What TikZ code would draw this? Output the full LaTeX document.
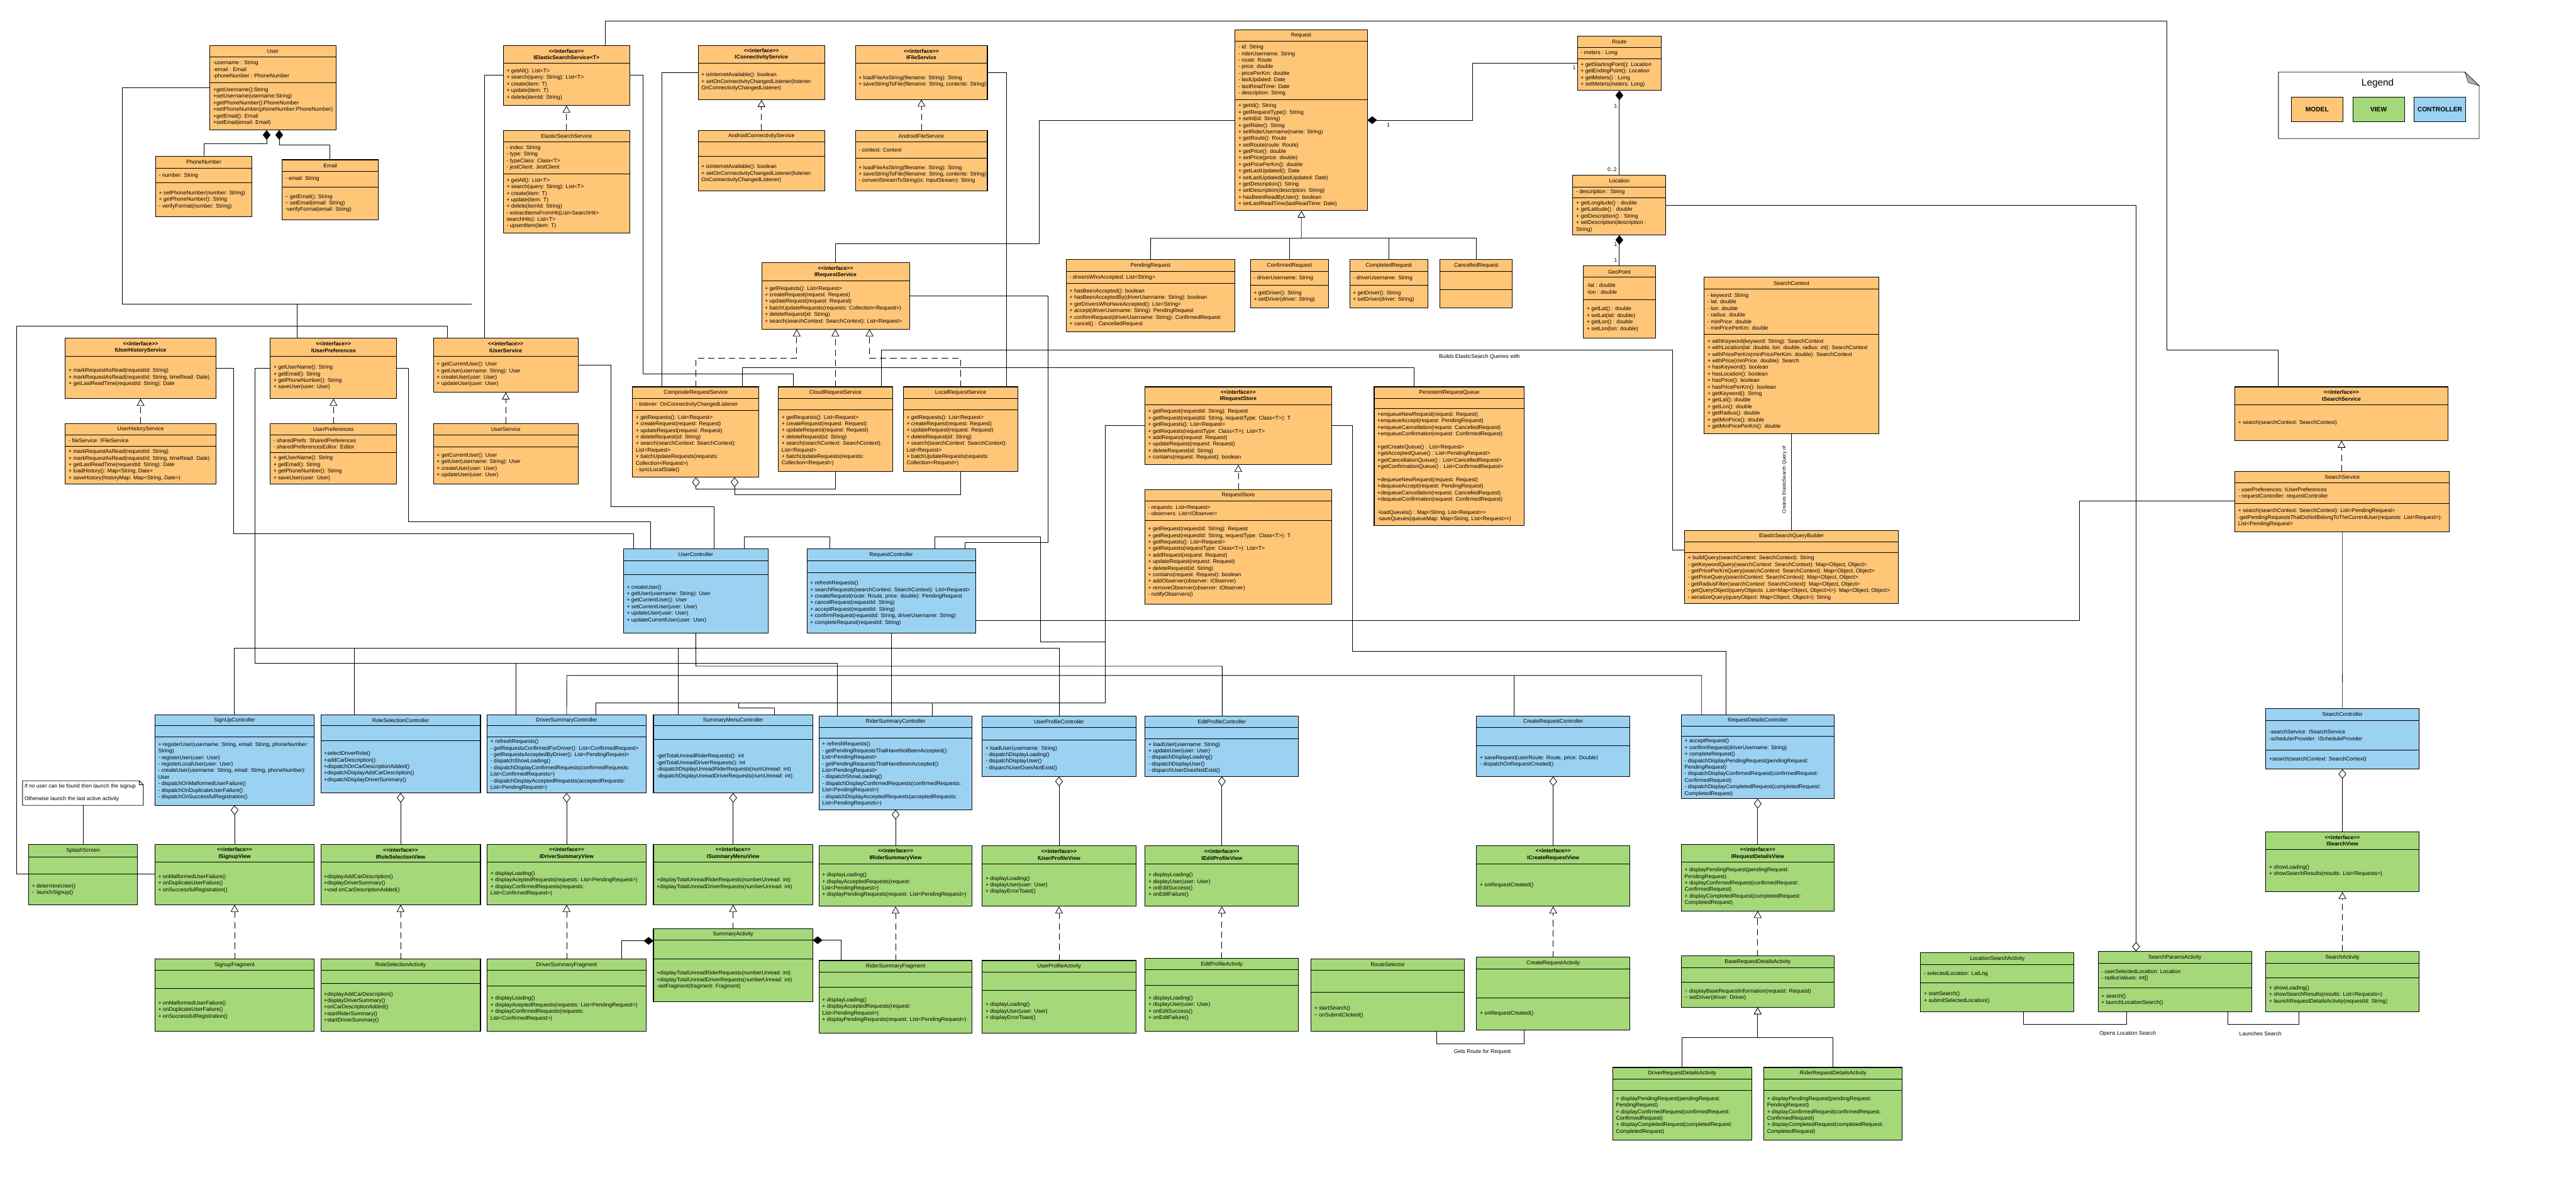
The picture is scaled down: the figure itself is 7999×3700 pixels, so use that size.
\documentclass[tikz,border=0pt]{standalone}
\usepackage{fontspec}
\newfontfamily\umlfont{Liberation Sans}
\usetikzlibrary{arrows.meta}
\definecolor{modelc}{HTML}{FFC677}
\definecolor{viewc}{HTML}{A5D878}
\definecolor{ctrlc}{HTML}{9BD2F2}
\newcommand\umlfs{\umlfont\fontsize{16.8}{20.3}\selectfont}
\newcounter{tn}
\newcommand\uclass[8]{%
  \node[ubox,fill=#8,minimum width={(#3)-(#2)},minimum height={(#7)-(#4)}] (#1) at ({((#2)+(#3))/2},{((#4)+(#7))/2}) {};
  \draw[udiv] (#2,#5) -- (#3,#5);
  \draw[udiv] (#2,#6) -- (#3,#6);
  \gdef\cxa{#2}\gdef\cxb{#3}\gdef\cya{#4}\gdef\cyb{#5}\gdef\cyc{#6}\gdef\cyd{#7}}
\newcommand\ctitle[1]{\stepcounter{tn}\node[uc] (tx\arabic{tn}) at ({(\cxa+\cxb)/2},{(\cya+\cyb)/2}) {#1};}
\newcommand\chead[1]{\stepcounter{tn}\node[uh] (tx\arabic{tn}) at ({(\cxa+\cxb)/2},{(\cya+\cyb)/2}) {<<interface>>\\#1};}
\newcommand\cattr[1]{\stepcounter{tn}\node[ul] (tx\arabic{tn}) at ({\cxa+10},{(\cyb+\cyc)/2}) {#1};}
\newcommand\cmeth[1]{\stepcounter{tn}\node[ul] (tx\arabic{tn}) at ({\cxa+10},{(\cyc+\cyd)/2}) {#1};}
\tikzset{
  ubox/.style={draw,line width=2pt,inner sep=0pt,outer sep=0pt},
  udiv/.style={line width=1.6pt},
  uc/.style={inner sep=0pt,font=\umlfs},
  uh/.style={inner sep=0pt,font=\umlfs\bfseries,align=center},
  ul/.style={inner sep=0pt,font=\umlfs,anchor=west,align=left},
  assoc/.style={line width=1.8pt},
  thin/.style={line width=1pt},
  real/.style={line width=1.6pt,dash pattern=on 20pt off 12pt,-{Triangle[open,length=22pt,width=24pt]}},
  gen/.style={line width=1.8pt,-{Triangle[open,length=22pt,width=24pt]}},
  agg/.style={line width=1.6pt,{Diamond[open,length=30pt,width=24pt]}-},
  comp/.style={line width=1.8pt,{Diamond[length=30pt,width=24pt]}-},
  lbl/.style={inner sep=0pt,font=\umlfs}
}
\begin{document}
\begin{tikzpicture}[x=1pt,y=-1pt]
\useasboundingbox (0,0) rectangle (7999,3700);
\fill[white] (0,0) rectangle (7999,3700);

% ================= MODEL =================
\uclass{User}{652}{1043}{141}{176}{257}{404}{modelc}
\ctitle{User}
\cattr{-username : String\\-email : Email\\-phoneNumber : PhoneNumber}
\cmeth{+getUsername():String\\+setUsername(username:String)\\+getPhoneNumber():PhoneNumber\\+setPhoneNumber(phoneNumber:PhoneNumber)\\+getEmail(): Email\\+setEmail(email: Email)}

\uclass{PhoneNumber}{483}{783}{485}{522}{568}{673}{modelc}
\ctitle{PhoneNumber}
\cattr{- number: String}
\cmeth{+ setPhoneNumber(number: String)\\+ getPhoneNumber(): String\\- verifyFormat(number: String)}

\uclass{Email}{876}{1175}{496}{532}{580}{683}{modelc}
\ctitle{Email}
\cattr{- email: String}
\cmeth{\textasciitilde{} getEmail(): String\\\textasciitilde{} setEmail(email: String)\\-verifyFormat(email: String)}

\uclass{IElasticSearchService}{1563}{1955}{141}{196}{196}{328}{modelc}
\chead{IElasticSearchService<T>}
\cmeth{+ getAll(): List<T>\\+ search(query: String): List<T>\\+ create(item: T)\\+ update(item: T)\\+ delete(itemId: String)}

\uclass{ElasticSearchService}{1563}{1955}{405}{440}{540}{723}{modelc}
\ctitle{ElasticSearchService}
\cattr{- index: String\\- type: String\\- typeClass: Class<T>\\- jestClient: JestClient}
\cmeth{+ getAll(): List<T>\\+ search(query: String): List<T>\\+ create(item: T)\\+ update(item: T)\\+ delete(itemId: String)\\- extractItemsFromHit(List<SearchHit>\\searchHits): List<T>\\- upsertItem(item: T)}

\uclass{IConnectivityService}{2168}{2561}{141}{197}{197}{310}{modelc}
\chead{IConnectivityService}
\cmeth{+ isInternetAvailable(): boolean\\+ setOnConnectivityChangedListener(listener:\\OnConnectivityChangedListener)}

\uclass{AndroidConnectivityService}{2168}{2561}{405}{441}{485}{593}{modelc}
\ctitle{AndroidConnectivityService}
\cmeth{+ isInternetAvailable(): boolean\\+ setOnConnectivityChangedListener(listener:\\OnConnectivityChangedListener)}

\uclass{IFileService}{2656}{3066}{141}{196}{196}{309}{modelc}
\chead{IFileService}
\cmeth{+ loadFileAsString(filename: String): String\\+ saveStringToFile(filename: String, contents: String)}

\uclass{AndroidFileService}{2656}{3066}{405}{441}{490}{593}{modelc}
\ctitle{AndroidFileService}
\cattr{- context: Context}
\cmeth{+ loadFileAsString(filename: String): String\\+ saveStringToFile(filename: String, contents: String)\\- convertStreamToString(is: InputStream): String}

\uclass{Request}{3835}{4246}{92}{128}{309}{654}{modelc}
\ctitle{Request}
\cattr{- id: String\\- riderUsername: String\\- route: Route\\- price: double\\- pricePerKm: double\\- lastUpdated: Date\\- lastReadTime: Date\\- description: String}
\cmeth{+ getId(): String\\+ getRequestType(): String\\+ setId(id: String)\\+ getRider(): String\\+ setRiderUsername(name: String)\\+ getRoute(): Route\\+ setRoute(route: Route)\\+ getPrice(): double\\+ setPrice(price: double)\\+ getPricePerKm(): double\\+ getLastUpdated(): Date\\+ setLastUpdated(lastUpdated: Date)\\+ getDescription(): String\\+ setDescription(description: String)\\+ hasBeenReadByUser(): boolean\\+ setLastReadTime(lastReadTime: Date)}

\uclass{PendingRequest}{3311}{3834}{806}{842}{880}{1031}{modelc}
\ctitle{PendingRequest}
\cattr{- driversWhoAccepted: List<String>}
\cmeth{+ hasBeenAccepted(): boolean\\+ hasBeenAcceptedBy(driverUsername: String): boolean\\+ getDriversWhoHaveAccepted(): List<String>\\+ accept(driverUsername: String): PendingRequest\\+ confirmRequest(driverUsername: String): ConfirmedRequest\\+ cancel() : CancelledRequest}

\uclass{ConfirmedRequest}{3883}{4125}{806}{842}{886}{955}{modelc}
\ctitle{ConfirmedRequest}
\cattr{- driverUsername: String}
\cmeth{+ getDriver(): String\\+ setDriver(driver: String)}

\uclass{CompletedRequest}{4191}{4434}{806}{842}{886}{955}{modelc}
\ctitle{CompletedRequest}
\cattr{- driverUsername: String}
\cmeth{+ getDriver(): String\\+ setDriver(driver: String)}

\uclass{CancelledRequest}{4472}{4696}{806}{842}{899}{955}{modelc}
\ctitle{CancelledRequest}

\uclass{Route}{4898}{5159}{112}{147}{183}{281}{modelc}
\ctitle{Route}
\cattr{- meters : Long}
\cmeth{+ getStartingPoint(): Location\\+ getEndingPoint(): Location\\+ getMeters() : Long\\+ setMeters(meters: Long)}

\uclass{Location}{4884}{5173}{544}{580}{614}{730}{modelc}
\ctitle{Location}
\cattr{- description : String}
\cmeth{+ getLongitude() : double\\+ getLatitude() : double\\+ getDescription() : String\\+ setDescription(description :\\String)}

\uclass{GeoPoint}{4917}{5140}{826}{861}{931}{1050}{modelc}
\ctitle{GeoPoint}
\cattr{-lat : double\\-lon : double}
\cmeth{+ getLat() : double\\+ setLat(lat: double)\\+ getLon() : double\\+ setLon(lon: double)}

\uclass{SearchContext}{5292}{5834}{861}{897}{1038}{1347}{modelc}
\ctitle{SearchContext}
\cattr{- keyword: String\\- lat: double\\- lon: double\\- radius: double\\- minPrice: double\\- minPricePerKm: double}
\cmeth{+ withKeyword(keyword: String): SearchContext\\+ withLocation(lat: double, lon: double, radius: int): SearchContext\\+ withPricePerKm(minPricePerKim: double): SearchContext\\+ withPrice(minPrice: double): Search\\+ hasKeyword(): boolean\\+ hasLocation(): boolean\\+ hasPrice(): boolean\\+ hasPricePerKm(): boolean\\+ getKeyword(): String\\+ getLat(): double\\+ getLon(): double\\+ getRadius(): double\\+ getMinPrice(): double\\+ getMinPricePerKm(): double}

\uclass{IRequestService}{2365}{2824}{816}{872}{872}{1022}{modelc}
\chead{IRequestService}
\cmeth{+ getRequests(): List<Request>\\+ createRequest(request: Request)\\+ updateRequest(request: Request)\\+ batchUpdateRequests(requests: Collection<Request>)\\+ deleteRequest(id: String)\\+ search(searchContext: SearchContext): List<Request>}

\uclass{IUserHistoryService}{203}{670}{1050}{1106}{1106}{1238}{modelc}
\chead{IUserHistoryService}
\cmeth{+ markRequestAsRead(requestId: String)\\+ markRequestAsRead(requestId: String, timeRead: Date)\\+ getLastReadTime(requestId: String): Date}

\uclass{IUserPreferences}{839}{1232}{1050}{1106}{1106}{1238}{modelc}
\chead{IUserPreferences}
\cmeth{+ getUserName(): String\\+ getEmail(): String\\+ getPhoneNumber(): String\\+ saveUser(user: User)}

\uclass{IUserService}{1346}{1795}{1050}{1106}{1106}{1218}{modelc}
\chead{IUserService}
\cmeth{+ getCurrentUser(): User\\+ getUser(username: String): User\\+ createUser(user: User)\\+ updateUser(user: User)}

\uclass{UserHistoryService}{203}{670}{1315}{1350}{1385}{1502}{modelc}
\ctitle{UserHistoryService}
\cattr{- fileService: IFileService}
\cmeth{+ markRequestAsRead(requestId: String)\\+ markRequestAsRead(requestId: String, timeRead: Date)\\+ getLastReadTime(requestId: String): Date\\+ loadHistory(): Map<String, Date>\\+ saveHistory(historyMap: Map<String, Date>)}

\uclass{UserPreferences}{839}{1232}{1315}{1350}{1405}{1502}{modelc}
\ctitle{UserPreferences}
\cattr{- sharedPrefs: SharedPreferences\\- sharedPreferencesEditor: Editor}
\cmeth{+ getUserName(): String\\+ getEmail(): String\\+ getPhoneNumber(): String\\+ saveUser(user: User)}

\uclass{UserService}{1346}{1795}{1315}{1350}{1388}{1502}{modelc}
\ctitle{UserService}
\cmeth{+ getCurrentUser(): User\\+ getUser(username: String): User\\+ createUser(user: User)\\+ updateUser(user: User)}

\uclass{CompositeRequestService}{1964}{2357}{1201}{1237}{1274}{1482}{modelc}
\ctitle{CompositeRequestService}
\cattr{- listener: OnConnectivityChangedListener}
\cmeth{+ getRequests(): List<Request>\\+ createRequest(request: Request)\\+ updateRequest(request: Request)\\+ deleteRequest(id: String)\\+ search(searchContext: SearchContext):\\List<Request>\\+ batchUpdateRequests(requests:\\Collection<Request>)\\- syncLocalState()}

\uclass{CloudRequestService}{2417}{2772}{1201}{1237}{1272}{1463}{modelc}
\ctitle{CloudRequestService}
\cmeth{+ getRequests(): List<Request>\\+ createRequest(request: Request)\\+ updateRequest(request: Request)\\+ deleteRequest(id: String)\\+ search(searchContext: SearchContext):\\List<Request>\\+ batchUpdateRequests(requests:\\Collection<Request>)}

\uclass{LocalRequestService}{2805}{3161}{1201}{1237}{1272}{1463}{modelc}
\ctitle{LocalRequestService}
\cmeth{+ getRequests(): List<Request>\\+ createRequest(request: Request)\\+ updateRequest(request: Request)\\+ deleteRequest(id: String)\\+ search(searchContext: SearchContext):\\List<Request>\\+ batchUpdateRequests(requests:\\Collection<Request>)}

\uclass{IRequestStore}{3555}{4135}{1201}{1256}{1256}{1443}{modelc}
\chead{IRequestStore}
\cmeth{+ getRequest(requestId: String): Request\\+ getRequest(requestId: String, requestType: Class<T>): T\\+ getRequests(): List<Request>\\+ getRequests(requestType: Class<T>): List<T>\\+ addRequest(request: Request)\\+ updateRequest(request: Request)\\+ deleteRequest(id: String)\\+ contains(request: Request): boolean}

\uclass{RequestStore}{3555}{4135}{1520}{1555}{1615}{1875}{modelc}
\ctitle{RequestStore}
\cattr{- requests: List<Request>\\- observers: List<IObserver>}
\cmeth{+ getRequest(requestId: String): Request\\+ getRequest(requestId: String, requestType: Class<T>): T\\+ getRequests(): List<Request>\\+ getRequests(requestType: Class<T>): List<T>\\+ addRequest(request: Request)\\+ updateRequest(request: Request)\\+ deleteRequest(id: String)\\+ contains(request: Request): boolean\\+ addObserver(observer: IObserver)\\+ removeObserver(observer: IObserver)\\- notifyObservers()}

\uclass{PersistentRequestQueue}{4267}{4733}{1201}{1236}{1269}{1631}{modelc}
\ctitle{PersistentRequestQueue}
\cmeth{+enqueueNewRequest(request: Request)\\+enqueueAccept(request: PendingRequest)\\+enqueueCancellation(request: CancelledRequest)\\+enqueueConfirmation(request: ConfirmedRequest)\\ \strut\\+getCreateQueue() : List<Request>\\+getAcceptedQueue() : List<PendingRequest>\\+getCancellationQueue() : List<CancelledRequest>\\+getConfirmationQueue() : List<ConfirmedRequest>\\ \strut\\+dequeueNewRequest(request: Request)\\+dequeueAccept(request: PendingRequest)\\+dequeueCancellation(request: CancelledRequest)\\+dequeueConfirmation(request: ConfirmedRequest)\\ \strut\\-loadQueues() : Map<String, List<Request>>\\-saveQueues(queueMap: Map<String, List<Request>>)}

\uclass{ElasticSearchQueryBuilder}{5231}{5895}{1647}{1683}{1715}{1873}{modelc}
\ctitle{ElasticSearchQueryBuilder}
\cmeth{+ buildQuery(searchContext: SearchContext): String\\- getKeywordQuery(searchContext: SearchContext): Map<Object, Object>\\- getPricePerKmQuery(searchContext: SearchContext): Map<Object, Object>\\- getPriceQuery(searchContext: SearchContext): Map<Object, Object>\\- getRadiusFilter(searchContext: SearchContext): Map<Object, Object>\\- getQueryObject(queryObjects: List<Map<Object, Object>t>): Map<Object, Object>\\- serializeQuery(queryObject: Map<Object, Object>): String}

\uclass{ISearchService}{6940}{7601}{1201}{1256}{1256}{1368}{modelc}
\chead{ISearchService}
\cmeth{+ search(searchContext: SearchContext)}

\uclass{SearchService}{6940}{7606}{1463}{1499}{1563}{1651}{modelc}
\ctitle{SearchService}
\cattr{- userPreferences: IUserPreferences\\- requestController: requestController}
\cmeth{+ search(searchContext: SearchContext): List<PendingRequest>\\-getPendingRequestsThatDoNotBelongToTheCurrentUser(requests: List<Request>):\\List<PendingRequest>}

% ================= CONTROLLER =================
\uclass{UserController}{1936}{2385}{1704}{1740}{1783}{1966}{ctrlc}
\ctitle{UserController}
\cmeth{+ createUser()\\+ getUser(username: String): User\\+ getCurrentUser(): User\\+ setCurrentUser(user: User)\\+ updateUser(user: User)\\+ updateCurrentUser(user: User)}

\uclass{RequestController}{2506}{3029}{1704}{1740}{1778}{1966}{ctrlc}
\ctitle{RequestController}
\cmeth{+ refreshRequests()\\+ searchRequests(searchContext: SearchContext): List<Request>\\+ createRequest(route: Route, price: double): PendingRequest\\+ cancelRequest(requestId: String)\\+ acceptRequest(requestId: String)\\+ confirmRequest(requestId: String, driverUsername: String)\\+ completeRequest(requestId: String)}

\uclass{SignUpController}{481}{976}{2219}{2253}{2287}{2500}{ctrlc}
\ctitle{SignUpController}
\cmeth{+ registerUser(username: String, email: String, phoneNumber:\\String)\\- registerUser(user: User)\\- registerLocalUser(user: User)\\- createUser(username: String, email: String, phoneNumber):\\User\\- dispatchOnMalformedUserFailure()\\- dispatchOnDuplicateUserFailure()\\- dispatchOnSuccessfulRegistration()}

\uclass{RoleSelectionController}{996}{1492}{2219}{2253}{2300}{2462}{ctrlc}
\ctitle{RoleSelectionController}
\cmeth{+selectDriverRole()\\+addCarDescription()\\+dispatchOnCarDescriptionAdded()\\+dispatchDisplayAddCarDescription()\\+dispatchDisplayDriverSummary()}

\uclass{DriverSummaryController}{1513}{2006}{2219}{2253}{2287}{2462}{ctrlc}
\ctitle{DriverSummaryController}
\cmeth{+ refreshRequests()\\- getRequestsConfirmedForDriver(): List<ConfirmedRequest>\\- getRequestsAcceptedByDriver(): List<PendingRequest>\\- dispatchShowLoading()\\- dispatchDisplayConfirmedRequests(confirmedRequests:\\List<ConfirmedRequests>)\\- dispatchDisplayAcceptedRequests(acceptedRequests:\\List<PendingRequest>)}

\uclass{SummaryMenuController}{2029}{2524}{2219}{2253}{2296}{2462}{ctrlc}
\ctitle{SummaryMenuController}
\cmeth{-getTotalUnreadRiderRequests(): int\\-getTotalUnreadDriverRequests(): int\\-dispatchDisplayUnreadRiderRequests(numUnread: int)\\-dispatchDisplayUnreadDriverRequests(numUnread: int)}

\uclass{RiderSummaryController}{2543}{3019}{2224}{2258}{2292}{2514}{ctrlc}
\ctitle{RiderSummaryController}
\cmeth{+ refreshRequests()\\- getPendingRequestsThatHaveNotBeenAccepted():\\List<PendingRequest>\\- getPendingRequestsThatHaveBeenAccepted():\\List<PendingRequest>\\- dispatchShowLoading()\\- dispatchDisplayConfirmedRequests(confirmedRequests:\\List<PendingRequest>)\\- dispatchDisplayAcceptedRequests(acceptedRequests:\\List<PendingRequests>)}

\uclass{UserProfileController}{3050}{3527}{2224}{2258}{2297}{2411}{ctrlc}
\ctitle{UserProfileController}
\cmeth{+ loadUser(username: String)\\- dispatchDisplayLoading()\\- dispatchDisplayUser()\\- disparchUserDoesNotExist()}

\uclass{EditProfileController}{3556}{4032}{2224}{2258}{2294}{2411}{ctrlc}
\ctitle{EditProfileController}
\cmeth{+ loadUser(username: String)\\+ updateUser(user: User)\\- dispatchDisplayLoading()\\- dispatchDisplayUser()\\- disparchUserDoesNotExist()}

\uclass{CreateRequestController}{4585}{5061}{2224}{2258}{2315}{2411}{ctrlc}
\ctitle{CreateRequestController}
\cmeth{+ saveRequest(userRoute: Route, price: Double)\\- dispatchOnRequestCreated()}

\uclass{RequestDetailsController}{5221}{5695}{2219}{2254}{2286}{2480}{ctrlc}
\ctitle{RequestDetailsController}
\cmeth{+ acceptRequest()\\+ confirmRequest(driverUsername: String)\\+ completeRequest()\\- dispatchDisplayPendingRequest(pendingRequest:\\PendingRequest)\\- dispatchDisplayConfirmedRequest(confirmedRequest:\\ConfirmedRequest)\\- dispatchDisplayCompletedRequest(completedRequest:\\CompletedRequest)}

\uclass{SearchController}{7036}{7511}{2199}{2236}{2329}{2388}{ctrlc}
\ctitle{SearchController}
\cattr{-searchService: ISearchService\\-schedulerProvider: IScheduleProvider}
\cmeth{+search(searchContext: SearchContext)}

% ================= VIEW =================
\uclass{SplashScreen}{89}{427}{2622}{2661}{2714}{2809}{viewc}
\ctitle{SplashScreen}
\cmeth{+ determineUser()\\-~~launchSignup()}

\uclass{ISignupView}{481}{976}{2622}{2677}{2677}{2809}{viewc}
\chead{ISignupView}
\cmeth{+ onMalformedUserFailure()\\+ onDuplicateUserFailure()\\+ onSuccessfulRegistration()}

\uclass{IRoleSelectionView}{996}{1492}{2622}{2677}{2677}{2809}{viewc}
\chead{IRoleSelectionView}
\cmeth{+displayAddCarDescription()\\+displayDriverSummary()\\+void onCarDescriptionAdded()}

\uclass{IDriverSummaryView}{1513}{2006}{2622}{2677}{2677}{2809}{viewc}
\chead{IDriverSummaryView}
\cmeth{+ displayLoading()\\+ displayAceptedRequests(requests: List<PendingRequest>)\\+ displayConfirmedRequests(requests:\\List<ConfirmedRequest>)}

\uclass{SignupFragment}{481}{976}{2978}{3013}{3069}{3202}{viewc}
\ctitle{SignupFragment}
\cmeth{+ onMalformedUserFailure()\\+ onDuplicateUserFailure()\\+ onSuccessfulRegistration()}

\uclass{RoleSelectionActivity}{996}{1492}{2978}{3013}{3054}{3202}{viewc}
\ctitle{RoleSelectionActivity}
\cmeth{+displayAddCarDescription()\\+displayDriverSummary()\\+onCarDescriptionAdded()\\+startRiderSummary()\\+startDriverSummary()}

\uclass{DriverSummaryFragment}{1513}{2006}{2978}{3013}{3060}{3202}{viewc}
\ctitle{DriverSummaryFragment}
\cmeth{+ displayLoading()\\+ displayAceptedRequests(requests: List<PendingRequest>)\\+ displayConfirmedRequests(requests:\\List<ConfirmedRequest>)}

\uclass{ISummaryMenuView}{2029}{2524}{2622}{2677}{2677}{2809}{viewc}
\chead{ISummaryMenuView}
\cmeth{+displayTotalUnreadRiderRequests(numberUnread: int)\\+displayTotalUnreadDriverRequests(numberUnread: int)}

\uclass{SummaryActivity}{2029}{2524}{2884}{2919}{2976}{3109}{viewc}
\ctitle{SummaryActivity}
\cmeth{+displayTotalUnreadRiderRequests(numberUnread: int)\\+displayTotalUnreadDriverRequests(numberUnread: int)\\-setFragment(fragment: Fragment)}

\uclass{IRiderSummaryView}{2543}{3019}{2625}{2682}{2682}{2814}{viewc}
\chead{IRiderSummaryView}
\cmeth{+ displayLoading()\\+ displayAcceptedRequests(request:\\List<PendingRequest>)\\+ displayPendingRequests(request: List<PendingRequest>)}

\uclass{RiderSummaryFragment}{2543}{3019}{2982}{3018}{3065}{3207}{viewc}
\ctitle{RiderSummaryFragment}
\cmeth{+ displayLoading()\\+ displayAcceptedRequests(request:\\List<PendingRequest>)\\+ displayPendingRequests(request: List<PendingRequest>)}

\uclass{IUserProfileView}{3050}{3527}{2625}{2682}{2682}{2814}{viewc}
\chead{IUserProfileView}
\cmeth{+ displayLoading()\\+ displayUser(user: User)\\+ displayErrorToast()}

\uclass{UserProfileActivity}{3050}{3527}{2982}{3018}{3074}{3207}{viewc}
\ctitle{UserProfileActivity}
\cmeth{+ displayLoading()\\+ displayUser(user: User)\\+ displayErrorToast()}

\uclass{IEditProfileView}{3556}{4032}{2625}{2682}{2682}{2814}{viewc}
\chead{IEditProfileView}
\cmeth{+ displayLoading()\\+ displayUser(user: User)\\+ onEditSuccess()\\+ onEditFailure()}

\uclass{EditProfileActivity}{3556}{4032}{2976}{3011}{3059}{3201}{viewc}
\ctitle{EditProfileActivity}
\cmeth{+ displayLoading()\\+ displayUser(user: User)\\+ onEditSuccess()\\+ onEditFailure()}

\uclass{RouteSelector}{4071}{4547}{2977}{3013}{3081}{3202}{viewc}
\ctitle{RouteSelector}
\cmeth{+ startSearch()\\\textasciitilde{} onSubmitClicked()}

\uclass{ICreateRequestView}{4585}{5061}{2625}{2682}{2682}{2814}{viewc}
\chead{ICreateRequestView}
\cmeth{+ onRequestCreated()}

\uclass{CreateRequestActivity}{4585}{5061}{2972}{3008}{3098}{3197}{viewc}
\ctitle{CreateRequestActivity}
\cmeth{+ onRequestCreated()}

\uclass{IRequestDetailsView}{5221}{5695}{2622}{2677}{2677}{2828}{viewc}
\chead{IRequestDetailsView}
\cmeth{+ displayPendingRequest(pendingRequest:\\PendingRequest)\\+ displayConfirmedRequest(confirmedRequest:\\ConfirmedRequest)\\+ displayCompletedRequest(completedRequest:\\CompletedRequest)}

\uclass{BaseRequestDetailsActivity}{5221}{5695}{2968}{3004}{3049}{3127}{viewc}
\ctitle{BaseRequestDetailsActivity}
\cmeth{\textasciitilde{} displayBaseRequestInformation(request: Request)\\\textasciitilde{} setDriver(driver: Driver)}

\uclass{DriverRequestDetailsActivity}{5008}{5439}{3314}{3350}{3386}{3539}{viewc}
\ctitle{DriverRequestDetailsActivity}
\cmeth{+ displayPendingRequest(pendingRequest:\\PendingRequest)\\+ displayConfirmedRequest(confirmedRequest:\\ConfirmedRequest)\\+ displayCompletedRequest(completedRequest:\\CompletedRequest)}

\uclass{RiderRequestDetailsActivity}{5477}{5907}{3314}{3350}{3386}{3539}{viewc}
\ctitle{RiderRequestDetailsActivity}
\cmeth{+ displayPendingRequest(pendingRequest:\\PendingRequest)\\+ displayConfirmedRequest(confirmedRequest:\\ConfirmedRequest)\\+ displayCompletedRequest(completedRequest:\\CompletedRequest)}

\uclass{LocationSearchActivity}{5964}{6440}{2958}{2994}{3052}{3141}{viewc}
\ctitle{LocationSearchActivity}
\cattr{- selectedLocation: LatLng}
\cmeth{+ startSearch()\\+ submitSelectedLocation()}

\uclass{SearchParamsActivity}{6515}{6992}{2954}{2990}{3066}{3141}{viewc}
\ctitle{SearchParamsActivity}
\cattr{- userSelectedLocation: Location\\- radiusValues: int[]}
\cmeth{+ search()\\+ launchLocationSearch()}

\uclass{SearchActivity}{7036}{7511}{2954}{2990}{3036}{3141}{viewc}
\ctitle{SearchActivity}
\cmeth{+ showLoading()\\+ showSearchResults(results: List<Requests>)\\+ launchRequestDetailsActivity(requestId: String)}

\uclass{ISearchView}{7036}{7511}{2582}{2638}{2638}{2769}{viewc}
\chead{ISearchView}
\cmeth{+ showLoading()\\+ showSearchResults(results: List<Requests>)}

% ================= NOTE =================
\node[inner sep=0pt,minimum width=375,minimum height=76] (note) at (257.5,2462) {};
\draw[line width=1.6pt,fill=white] (70,2424) -- (433,2424) -- (445,2436) -- (445,2500) -- (70,2500) -- cycle;
\draw[line width=1pt] (433,2424) -- (433,2436) -- (445,2436);
\node[ul] (notetext) at (76,2461) {If no user can be found then launch the signup\\ \strut\\Otherwise launch the last active activity};

% ================= LEGEND =================
\draw[line width=1.6pt,fill=white] (7075,224) -- (7654,224) -- (7698,266) -- (7698,430) -- (7075,430) -- cycle;
\filldraw[fill=gray!60,draw=black,line width=1pt] (7654,224) -- (7698,266) -- (7664,256) -- cycle;
\node[inner sep=0pt,font=\umlfont\fontsize{30}{36}\selectfont] (legendtitle) at (7383,259) {Legend};
\node[draw,line width=1.6pt,fill=modelc,minimum width=160,minimum height=75,inner sep=0pt,font=\umlfont\bfseries\fontsize{20}{24}\selectfont] (legmodel) at (7195,340) {MODEL};
\node[draw,line width=1.6pt,fill=viewc,minimum width=161,minimum height=75,inner sep=0pt,font=\umlfont\bfseries\fontsize{20}{24}\selectfont] (legview) at (7386,340) {VIEW};
\node[draw,line width=1.6pt,fill=ctrlc,minimum width=161,minimum height=75,inner sep=0pt,font=\umlfont\bfseries\fontsize{20}{24}\selectfont] (legctrl) at (7576,340) {CONTROLLER};

% ================= CONNECTORS =================
% compositions
\draw[comp] (User.south -| 828,0) -- (828,446) -- (633,446) -- (PhoneNumber.north -| 633,0);
\draw[comp] (User.south -| 867,0) -- (867,451) -- (1024,451) -- (Email.north -| 1024,0);
\draw[comp] (Request.east |- 0,373) -- (4573,373) -- (4573,196) -- (Route.west |- 0,196);
\draw[comp] (Route.south) -- (Location.north);
\draw[comp] (Location.south) -- (GeoPoint.north);
\draw[comp] (SummaryActivity.west |- 0,2921) -- (1930,2921) -- (DriverSummaryFragment.north -| 1930,0);
\draw[comp] (SummaryActivity.east |- 0,2919) -- (2612,2919) -- (RiderSummaryFragment.north -| 2612,0);
\node[lbl] (m1) at (4311,387) {1};
\node[lbl,anchor=east] (m2) at (4893,210) {1};
\node[lbl] (m3) at (5017,329) {1};
\node[lbl] (m4) at (5006,527) {0..2};
\node[lbl] (m5) at (5017,759) {1};
\node[lbl] (m6) at (5017,808) {1};

% realizations
\draw[real] (ElasticSearchService.north) -- (IElasticSearchService.south);
\draw[real] (AndroidConnectivityService.north) -- (IConnectivityService.south);
\draw[real] (AndroidFileService.north) -- (IFileService.south);
\draw[real] (UserHistoryService.north) -- (IUserHistoryService.south);
\draw[real] (UserPreferences.north) -- (IUserPreferences.south);
\draw[real] (UserService.north) -- (IUserService.south);
\draw[real] (RequestStore.north) -- (IRequestStore.south);
\draw[real] (SearchService.north -| 7271,0) -- (ISearchService.south -| 7271,0);
\draw[real] (CompositeRequestService.north -| 2161,0) -- (2161,1111) -- (2474,1111) -- (IRequestService.south -| 2474,0);
\draw[real] (CloudRequestService.north -| 2594,0) -- (IRequestService.south -| 2594,0);
\draw[real] (LocalRequestService.north -| 2982,0) -- (2982,1111) -- (2700,1111) -- (IRequestService.south -| 2700,0);
\draw[real] (SignupFragment.north) -- (ISignupView.south);
\draw[real] (RoleSelectionActivity.north) -- (IRoleSelectionView.south);
\draw[real] (DriverSummaryFragment.north) -- (IDriverSummaryView.south);
\draw[real] (SummaryActivity.north) -- (ISummaryMenuView.south);
\draw[real] (RiderSummaryFragment.north) -- (IRiderSummaryView.south);
\draw[real] (UserProfileActivity.north) -- (IUserProfileView.south);
\draw[real] (EditProfileActivity.north) -- (IEditProfileView.south);
\draw[real] (CreateRequestActivity.north) -- (ICreateRequestView.south);
\draw[real] (BaseRequestDetailsActivity.north) -- (IRequestDetailsView.south);
\draw[real] (SearchActivity.north) -- (ISearchView.south);

% generalizations
\draw[gen] (PendingRequest.north) -- (3573,740) -- (4041,740) -- (Request.south -| 4041,0);
\draw[assoc] (ConfirmedRequest.north) -- (ConfirmedRequest.north |- 0,740);
\draw[assoc] (CompletedRequest.north) -- (CompletedRequest.north |- 0,740);
\draw[assoc] (CancelledRequest.north) -- (CancelledRequest.north |- 0,740) -- (4041,740);
\draw[gen] (DriverRequestDetailsActivity.north) -- (DriverRequestDetailsActivity.north |- 0,3221) -- (5458,3221) -- (BaseRequestDetailsActivity.south);
\draw[assoc] (RiderRequestDetailsActivity.north) -- (RiderRequestDetailsActivity.north |- 0,3221) -- (5458,3221);

% controller -> view aggregations
\draw[agg] (SignUpController.south) -- (ISignupView.north);
\draw[agg] (RoleSelectionController.south) -- (IRoleSelectionView.north);
\draw[agg] (DriverSummaryController.south) -- (IDriverSummaryView.north);
\draw[agg] (SummaryMenuController.south) -- (ISummaryMenuView.north);
\draw[agg] (RiderSummaryController.south) -- (IRiderSummaryView.north);
\draw[agg] (UserProfileController.south) -- (IUserProfileView.north);
\draw[agg] (EditProfileController.south) -- (IEditProfileView.north);
\draw[agg] (CreateRequestController.south) -- (ICreateRequestView.north);
\draw[agg] (RequestDetailsController.south) -- (IRequestDetailsView.north);
\draw[agg] (SearchController.south) -- (ISearchView.north);
\draw[agg] (CompositeRequestService.south -| 2161,0) -- (2161,1519) -- (2594,1519) -- (CloudRequestService.south -| 2594,0);
\draw[agg] (CompositeRequestService.south -| 2281,0) -- (2281,1535) -- (2982,1535) -- (LocalRequestService.south -| 2982,0);
\draw[assoc,-{Diamond[open,length=30pt,width=24pt]}] (Location.east |- 0,638) -- (6633,638) -- (SearchParamsActivity.north -| 6633,0);

% associations (upper part)
\draw[thin] (IElasticSearchService.north -| 1880,0) -- (1880,65) -- (6728,65) -- (6728,1086) -- (7073,1086) -- (ISearchService.north -| 7073,0);
\draw[assoc] (IElasticSearchService.west |- 0,234) -- (1504,234) -- (IUserService.north -| 1504,0);
\draw[assoc] (IElasticSearchService.east |- 0,234) -- (1997,234) -- (1997,1161) -- (2464,1161) -- (CloudRequestService.north -| 2464,0);
\draw[assoc] (User.west |- 0,272) -- (380,272) -- (380,945) -- (1464,945);
\draw[thin] (922,945) -- (IUserPreferences.north -| 922,0);
\draw[assoc] (IUserService.north -| 1390,0) -- (1390,1012) -- (52,1012) -- (52,2714) -- (SplashScreen.west |- 0,2714);
\draw[assoc] (SplashScreen.east |- 0,2714) -- (ISignupView.west |- 0,2714);
\draw[assoc] (note.south -| SplashScreen.north) -- (SplashScreen.north);
\draw[assoc] (IUserHistoryService.east |- 0,1144) -- (726,1144) -- (726,1657) -- (1968,1657) -- (UserController.north -| 1968,0);
\draw[assoc] (IUserPreferences.east |- 0,1144) -- (1269,1144) -- (1269,1620) -- (2020,1620) -- (UserController.north -| 2020,0);
\draw[assoc] (IUserService.east |- 0,1134) -- (1897,1134) -- (1897,1573) -- (2217,1573) -- (UserController.north -| 2217,0);
\draw[assoc] (UserController.north -| 2311,0) -- (2311,1666) -- (2577,1666) -- (RequestController.north -| 2577,0);
\draw[assoc] (IConnectivityService.west |- 0,226) -- (2056,226) -- (CompositeRequestService.north -| 2056,0);
\draw[assoc] (CompositeRequestService.north -| 2306,0) -- (2306,1142) -- (4390,1142) -- (PersistentRequestQueue.north -| 4390,0);
\draw[assoc] (CloudRequestService.north -| 2737,0) -- (2737,1086) -- (5193,1086) -- (5193,1707) -- (ElasticSearchQueryBuilder.west |- 0,1707);
\node[lbl] (lblbuild) at (4594,1107) {Builds ElasticSearch Queires with};
\draw[thin] (IFileService.east |- 0,225) -- (3125,225) -- (LocalRequestService.north -| 3125,0);
\draw[assoc] (Request.west |- 0,373) -- (3227,373) -- (3227,757) -- (2594,757) -- (IRequestService.north -| 2594,0);
\draw[assoc] (IRequestService.east |- 0,919) -- (3255,919) -- (3255,1685) -- (2997,1685) -- (RequestController.north -| 2997,0);
\draw[thin] (RequestController.north -| 2902,0) -- (2902,1666) -- (3231,1666) -- (3231,1993) -- (3432,1993);
\draw[assoc] (IRequestStore.east |- 0,1322) -- (4200,1322) -- (4200,2022) -- (5360,2022) -- (RequestDetailsController.north -| 5360,0);
\draw[assoc] (RequestController.east |- 0,1926) -- (6457,1926) -- (6457,1556) -- (SearchService.west |- 0,1556);
\draw[thin] (SearchService.south) -- (SearchController.north);
\draw[assoc] (SearchContext.south) -- (ElasticSearchQueryBuilder.north);
\node[inner sep=0pt,rotate=90,font=\umlfont\fontsize{15}{18}\selectfont] (lblcreates) at (5541,1490) {Creates ElasticSearch Query of};

% controller buses
\draw[assoc] (UserController.south) -- (2161,2068) -- (3795,2068) -- (EditProfileController.north -| 3795,0);
\draw[assoc] (SignUpController.north -| 728,0) -- (728,2013) -- (3289,2013) -- (UserProfileController.north -| 3289,0);
\draw[assoc] (RoleSelectionController.north -| 1101,0) -- (1101,2013);
\draw[thin] (SummaryMenuController.north -| 2105,0) -- (2105,2013);
\draw[assoc] (IUserPreferences.west |- 0,1144) -- (792,1144) -- (792,2059) -- (2600,2059) -- (RiderSummaryController.north -| 2600,0);
\draw[thin] (DriverSummaryController.north -| 1601,0) -- (1601,2059);
\draw[assoc] (RequestController.south) -- (RiderSummaryController.north -| RequestController.south);
\draw[assoc] (DriverSummaryController.north) -- (1760,2097) -- (5284,2097) -- (RequestDetailsController.north -| 5284,0);
\draw[thin] (4701,2097) -- (CreateRequestController.north -| 4701,0);
\draw[assoc] (IRequestStore.west |- 0,1322) -- (3432,1322) -- (3432,2182) -- (1851,2182) -- (DriverSummaryController.north -| 1851,0);
\draw[thin] (2293,2182) -- (2293,2198) -- (2404,2198) -- (SummaryMenuController.north -| 2404,0);
\draw[thin] (2894,2182) -- (RiderSummaryController.north -| 2894,0);

% lower associations
\draw[assoc] (RouteSelector.south -| 4462,0) -- (4462,3241) -- (4732,3241) -- (CreateRequestActivity.south -| 4732,0);
\node[lbl] (lblroute) at (4603,3265) {Gets Route for Request};
\draw[assoc] (LocationSearchActivity.south -| 6284,0) -- (6284,3180) -- (6603,3180) -- (SearchParamsActivity.south -| 6603,0);
\node[lbl] (lblopens) at (6607,3209) {Opens Location Search};
\draw[assoc] (SearchParamsActivity.south -| 6918,0) -- (6918,3180) -- (7139,3180) -- (SearchActivity.south -| 7139,0);
\node[lbl] (lbllaunch) at (7019,3209) {Launches Search};
\end{tikzpicture}
\end{document}
